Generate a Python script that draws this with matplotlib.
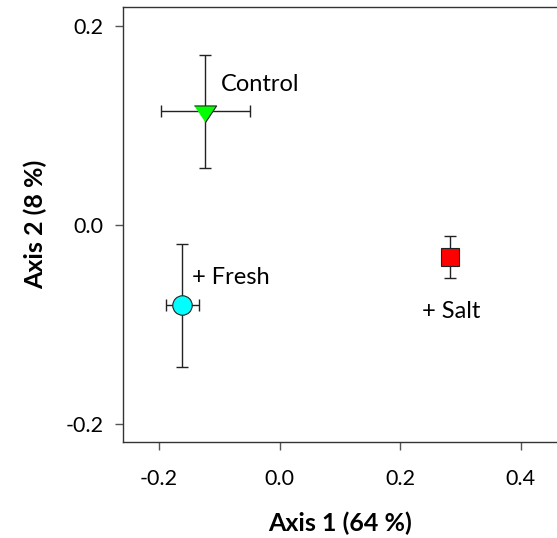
import matplotlib
matplotlib.use("Agg")
from matplotlib import pyplot as plt

plt.rcParams['font.family'] = ['Lato', 'DejaVu Sans']

# group means and standard errors on the two PCoA axes
groups = ["Control", "+ Fresh", "+ Salt"]
axis1 = [-0.123, -0.161, 0.282]
axis2 = [0.114, -0.081, -0.032]
err1 = [0.074, 0.028, 0.0]
err2 = [0.057, 0.062, 0.021]
colors = ["#00ff00", "#00ffff", "#ff0000"]
markers = [[(-1, 0.5), (1, 0.5), (0, -1)], "o", "s"]
sizes = [16, 14, 13.5]
label_xy = [(-0.098, 0.141), (-0.145, -0.053), (0.237, -0.087)]

fig = plt.figure(figsize=(5.57, 5.38), dpi=100)
ax = fig.add_axes([0.2203, 0.179, 0.7797, 0.808])

for i in range(3):
    ax.errorbar(axis1[i], axis2[i], xerr=err1[i] if err1[i] > 0 else None, yerr=err2[i],
                fmt="none", ecolor="#222222", elinewidth=1, capsize=4.5, capthick=1, zorder=2)
    ax.plot(axis1[i], axis2[i], marker=markers[i], ms=sizes[i], color=colors[i],
            mec="#222222", mew=0.8, ls="none", zorder=3)
    ax.text(label_xy[i][0], label_xy[i][1], groups[i], fontsize=17, ha="left", va="center")

ax.set_xlim(-0.26, 0.46)
ax.set_ylim(-0.218, 0.219)
ax.set_xticks([-0.2, 0.0, 0.2, 0.4])
ax.set_yticks([-0.2, 0.0, 0.2])
ax.set_xticklabels(["-0.2", "0.0", "0.2", "0.4"])
ax.set_yticklabels(["-0.2", "0.0", "0.2"])
ax.tick_params(direction="out", length=6, width=1, color="#555555", labelsize=15.5)
ax.tick_params(axis="x", pad=14)
ax.tick_params(axis="y", pad=8)
for s in ["left", "bottom", "top"]:
    ax.spines[s].set_color("#333333")
    ax.spines[s].set_linewidth(1)
ax.spines["right"].set_visible(False)

ax.set_xlabel("Axis 1 (64 %)", fontsize=18, fontweight="bold", va="center")
ax.set_ylabel("Axis 2 (8 %)", fontsize=18, fontweight="bold", va="center")
ax.xaxis.set_label_coords(0.5, -0.187)
ax.yaxis.set_label_coords(-0.202, 0.5)

fig.savefig("out.png", dpi=100)
